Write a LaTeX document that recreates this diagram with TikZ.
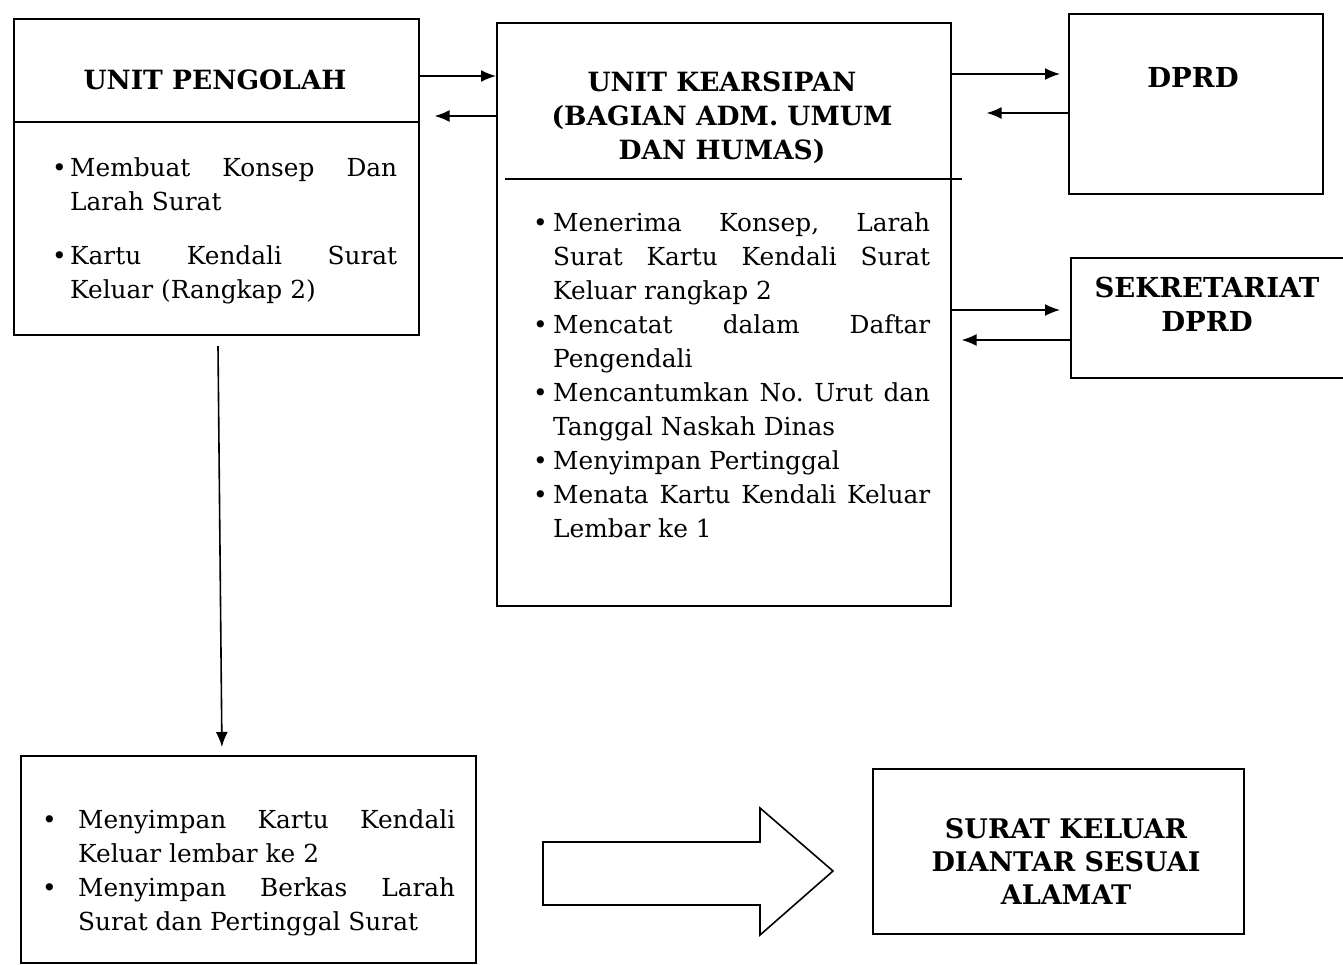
\documentclass[tikz,border=0pt]{standalone}
\usepackage{fontspec}
\setmainfont{DejaVu Serif}
\usetikzlibrary{arrows.meta}
\hyphenpenalty=10000
\exhyphenpenalty=10000
\frenchspacing
\newcommand{\bitem}[2]{\par\noindent\hangindent=#1\hangafter=1\makebox[#1][l]{\textbullet}#2\par}
\tikzset{
  box/.style={draw, line width=1.6pt, rectangle, anchor=north west, inner sep=0pt},
  ttl/.style={font=\bfseries\fontsize{26.5}{34}\selectfont, align=center, inner sep=0pt},
  body/.style={font=\fontsize{24.8}{34}\selectfont, align=justify, anchor=north west, inner sep=0pt},
  arr/.style={line width=1.6pt, -{Latex[length=15pt,width=12pt]}},
  divl/.style={line width=1.6pt}
}
\begin{document}
\begin{tikzpicture}[x=1pt,y=-1pt]
\useasboundingbox (0,0) rectangle (1343,964);
\clip (0,0) rectangle (1343,964);
% boxes
\node[box, minimum width=405pt, minimum height=316pt] (A) at (13,18) {};
\node[box, minimum width=454pt, minimum height=583pt] (B) at (496,22) {};
\node[box, minimum width=254pt, minimum height=180pt] (C) at (1068,13) {};
\node[box, minimum width=290pt, minimum height=120pt] (D) at (1070,257) {};
\node[box, minimum width=455pt, minimum height=207pt] (E) at (20,755) {};
\node[box, minimum width=371pt, minimum height=165pt] (F) at (872,768) {};
% dividers
\draw[divl] (A.west |- 0,122) -- (A.east |- 0,122);
\draw[divl] ([xshift=9pt]B.west |- 0,179) -- ([xshift=10pt]B.east |- 0,179);
% titles
\node[ttl] (At) at (215,80) {UNIT PENGOLAH};
\node[ttl] (Bt) at (722,118) {UNIT KEARSIPAN\\(BAGIAN ADM. UMUM\\DAN HUMAS)};
\node[ttl, font=\bfseries\fontsize{27.5}{34}\selectfont] (Ct) at (1193,77) {DPRD};
\node[ttl, font=\bfseries\fontsize{27.5}{34}\selectfont] (Dt) at (1207,304) {SEKRETARIAT\\DPRD};
\node[ttl, font=\bfseries\fontsize{27}{33}\selectfont] (Ft) at (1066,861) {SURAT KELUAR\\DIANTAR SESUAI\\ALAMAT};
% bodies
\node[body, text width=345pt] (Ab) at (52,142) {%
\bitem{18pt}{Membuat Konsep Dan Larah Surat}\vspace{20pt}
\bitem{18pt}{Kartu Kendali Surat Keluar (Rangkap 2)}};
\node[body, text width=397pt] (Bb) at (533,197) {%
\bitem{20pt}{Menerima Konsep, Larah Surat Kartu Kendali Surat Keluar rangkap 2}
\bitem{20pt}{Mencatat dalam Daftar Pengendali}
\bitem{20pt}{Mencantumkan No. Urut dan Tanggal Naskah Dinas}
\bitem{20pt}{Menyimpan Pertinggal}
\bitem{20pt}{Menata Kartu Kendali Keluar Lembar ke 1}};
\node[body, text width=413pt] (Eb) at (42,794) {%
\bitem{36pt}{Menyimpan Kartu Kendali Keluar lembar ke 2}
\bitem{36pt}{Menyimpan Berkas Larah Surat dan Pertinggal Surat}};
% connectors
\draw[arr] (A.east |- 0,76) -- (B.west |- 0,76);
\draw[arr] (B.west |- 0,116) -- ([xshift=15pt]A.east |- 0,116);
\draw[arr] (B.east |- 0,74) -- ([xshift=-8pt]C.west |- 0,74);
\draw[arr] (C.west |- 0,113) -- ([xshift=35pt]B.east |- 0,113);
\draw[arr] (B.east |- 0,310) -- ([xshift=-10pt]D.west |- 0,310);
\draw[arr] (D.west |- 0,340) -- ([xshift=10pt]B.east |- 0,340);
\coordinate (vs) at (218,346);
\draw[arr, shorten >=8pt] (vs) -- (E.north -| 222,0);
% big hollow arrow
\draw[line width=1.6pt, line join=miter] (543,842) -- (760,842) -- (760,808) -- (833,871) -- (760,935) -- (760,905) -- (543,905) -- cycle;
\end{tikzpicture}
\end{document}
